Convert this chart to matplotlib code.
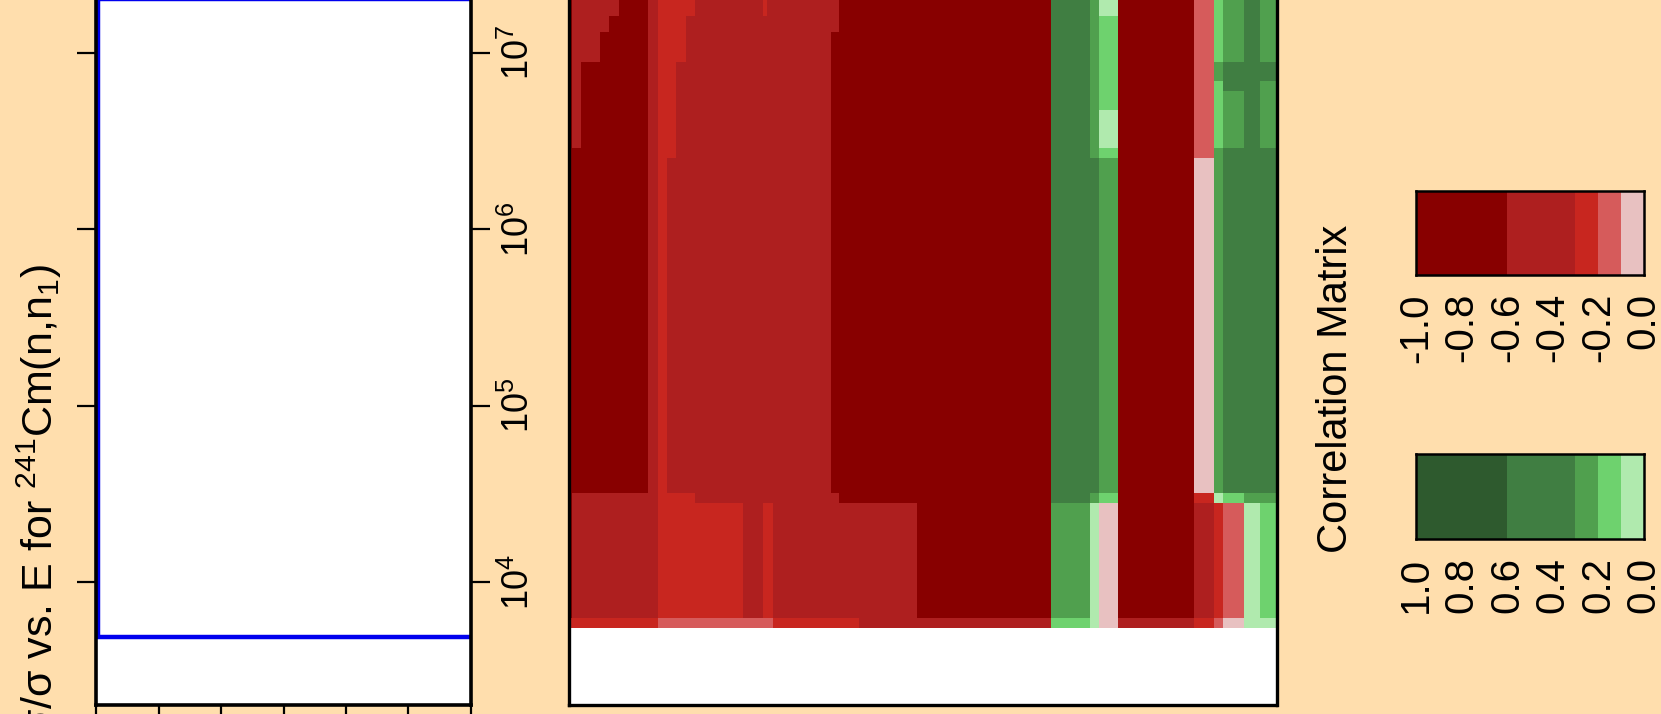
import matplotlib
matplotlib.use('Agg')
import matplotlib.pyplot as plt
import numpy as np
from matplotlib.colors import ListedColormap, BoundaryNorm
from matplotlib.ticker import FixedLocator, NullLocator, LogFormatterMathtext

plt.rcParams['font.family'] = ['Liberation Sans', 'DejaVu Sans']
plt.rcParams['mathtext.fontset'] = 'custom'
plt.rcParams['mathtext.rm'] = 'Liberation Sans'
plt.rcParams['mathtext.it'] = 'Liberation Sans:italic'
plt.rcParams['mathtext.default'] = 'regular'

bg = '#FFDEAD'

# correlation classes and their colours
levels = [-1.0, -0.6, -0.3, -0.2, -0.1, 0.0, 0.1, 0.2, 0.3, 0.6, 1.0]
level_colors = ['#880000', '#AE1F1F', '#C8261F', '#D65B5B', '#E8C1C1',
                '#B0EAAE', '#6ED26E', '#50A04E', '#407E42', '#2E5A2E']

# energy group boundaries (eV)
col_edges = [5.50e3, 5.68e3, 6.30e3, 7.88e3, 8.77e3, 9.86e3, 1.37e4, 1.54e4,
             1.72e4, 1.91e4, 2.14e4, 2.37e4, 4.15e4, 5.20e4, 5.45e4, 5.82e4,
             1.14e5, 1.26e5, 1.59e5, 3.10e5, 1.46e6, 2.30e6, 2.56e6, 3.20e6,
             7.73e6, 9.71e6, 1.08e7, 1.37e7, 1.65e7, 2.0e7]
row_edges = [5.51e3, 6.22e3, 2.79e4, 3.18e4, 2.52e6, 2.87e6, 4.72e6, 6.05e6,
             6.90e6, 8.80e6, 1.30e7, 1.60e7, 2.0e7]

# correlation class per cell, one string per row (lowest energy first)
corr_code = {'D': -0.8, 'M': -0.45, 'B': -0.25, 'L': -0.15, 'P': -0.05,
             'v': 0.05, 'l': 0.15, 'm': 0.25, 'g': 0.45, 'G': 0.8}
corr_rows = [
    "BBBBBBBLLLLLLLLBBBMMlvPMBLPvv",
    "DMMMMMMBBBBBMBBMMMMDmvPDMBLvl",
    "DMMMMMMBBBBMMMMMMDDDgmlDBvlmm",
    "DDDDDDMBMMMMMMMMDDDDggmDPmggg",
    "DDDDDDMBBMMMMMMMDDDDgmlDLmggg",
    "DMDDDDMBBMMMMMMMDDDDgmvDLlmgm",
    "DMDDDDMBBMMMMMMMDDDDgmlDLlmgm",
    "DMDDDDMBBMMMMMMMDDDDgmlDLlggm",
    "DMDDDDMBBMMMMMMMDDDDgmlDLmggg",
    "DMMDDDMBBBMMMMMMDDDDgmlDLlmgm",
    "DMMMDDMBBBMMMMMMMDDDgmlDLlmgm",
    "DMMMMDMBBBBMMBMMMDDDgmvDLlmgm",
]

# relative uncertainty (%) vs energy
unc_energy = [4.9e3, 4.9e3, 2.0e7, 2.0e7]
unc_value = [30.0, 0.16, 0.16, 30.0]

e_ticks = [1e4, 1e5, 1e6, 1e7]
unc_ticks = [0, 5, 10, 15, 20, 25, 30]
cb_neg_ticks = [-1.0, -0.8, -0.6, -0.4, -0.2, 0.0]
cb_pos_ticks = [1.0, 0.8, 0.6, 0.4, 0.2, 0.0]

W, H = 1661, 714
fig = plt.figure(figsize=(W / 100, H / 100), dpi=100)
fig.patch.set_facecolor(bg)

def px(x0, x1, ytop, ybot):
    return [x0 / W, (H - ybot) / H, (x1 - x0) / W, (ybot - ytop) / H]

ymin, ymax = 2.0e3, 1.0e8
ax_top, ax_bot = -124.0, 705.4

cmap = ListedColormap(level_colors)
norm = BoundaryNorm(levels, cmap.N)

# uncertainty panel
ax1 = fig.add_axes(px(96.4, 470.7, ax_top, ax_bot))
ax1.set_facecolor('white')
ax1.plot(unc_value, unc_energy, color='#0000EE', lw=3.2, solid_joinstyle='miter')
ax1.set_yscale('log')
ax1.set_ylim(ymin, ymax)
ax1.set_xlim(0, 30)
ax1.xaxis.set_major_locator(FixedLocator(unc_ticks))
ax1.yaxis.set_major_locator(FixedLocator(e_ticks))
ax1.yaxis.set_minor_locator(NullLocator())
ax1.yaxis.set_major_formatter(LogFormatterMathtext())
ax1.yaxis.set_ticks_position('both')
ax1.tick_params(axis='both', direction='out', length=13.5, width=1.6, color='black')
ax1.tick_params(axis='x', labelbottom=False)
ax1.tick_params(axis='y', labelleft=False, labelright=True, labelsize=26,
                labelrotation=90, pad=8)
for t in ax1.yaxis.get_major_ticks():
    t.label2.set_verticalalignment('center')
for s in ax1.spines.values():
    s.set_linewidth(2.6)

# correlation matrix
ax2 = fig.add_axes(px(569.0, 1276.5, ax_top, ax_bot))
ax2.set_facecolor('white')
vals = np.array([[corr_code[c] for c in row] for row in corr_rows])
ax2.pcolormesh(col_edges, row_edges, vals, cmap=cmap, norm=norm, shading='flat')
ax2.set_xscale('log')
ax2.set_yscale('log')
ax2.set_xlim(col_edges[0], col_edges[-1])
ax2.set_ylim(ymin, ymax)
ax2.set_xticks([])
ax2.set_yticks([])
ax2.xaxis.set_minor_locator(NullLocator())
ax2.yaxis.set_minor_locator(NullLocator())
for s in ax2.spines.values():
    s.set_linewidth(2.4)

fig.text(39 / W, (H - 264) / H,
         r'$\Delta\sigma/\sigma$ vs. E for $^{241}$Cm(n,n$_1$)',
         rotation=90, ha='center', va='top', fontsize=31)
fig.text(1336 / W, (H - 389) / H, 'Correlation Matrix',
         rotation=90, ha='center', va='center', fontsize=30)

# colour keys
def color_key(rect, edges, colors, ticks, lim):
    cax = fig.add_axes(rect)
    mids = [(a + b) / 2 for a, b in zip(edges[:-1], edges[1:])]
    cax.pcolormesh(edges, [0, 1], [mids], cmap=ListedColormap(colors),
                   norm=BoundaryNorm(edges, len(colors)), shading='flat')
    cax.set_xlim(*lim)
    cax.set_ylim(0, 1)
    cax.set_yticks([])
    cax.set_xticks(ticks)
    cax.set_xticklabels(['%.1f' % t for t in ticks])
    cax.tick_params(axis='x', length=0, pad=13, labelsize=29, labelrotation=90)
    for s in cax.spines.values():
        s.set_linewidth(1.8)
    return cax

color_key(px(1416, 1643.5, 190.5, 275), levels[:6], level_colors[:5],
          cb_neg_ticks, (-1.0, 0.0))
color_key(px(1416, 1643.5, 454, 538.7), levels[5:], level_colors[5:],
          cb_pos_ticks, (1.0, 0.0))

fig.savefig('out.png', dpi=100, facecolor=bg)
